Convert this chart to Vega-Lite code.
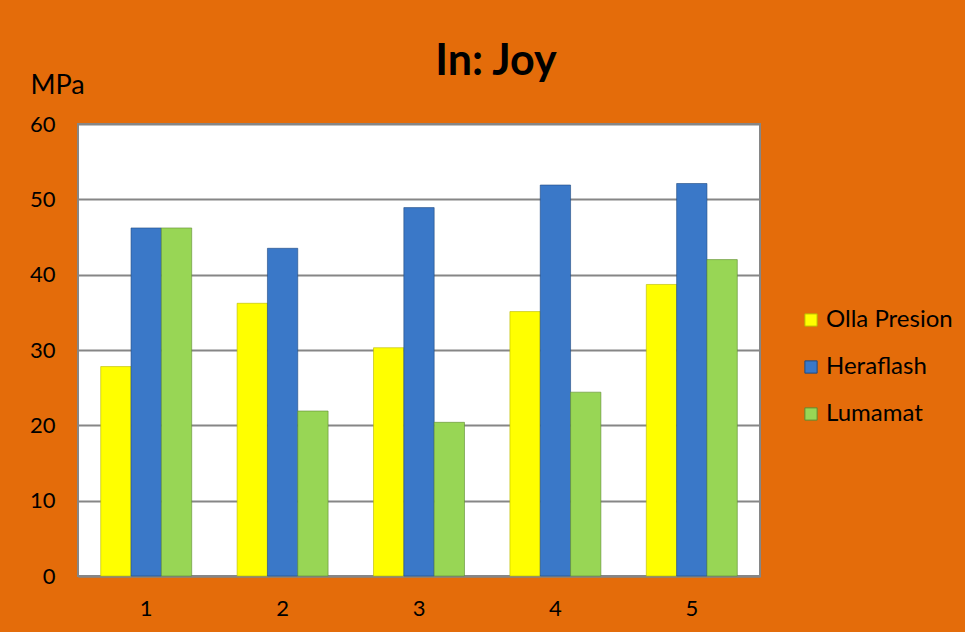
{
  "$schema": "https://vega.github.io/schema/vega-lite/v6.json",
  "width": 682,
  "height": 452,
  "autosize": "none",
  "padding": {"left": 78, "top": 124, "right": 205, "bottom": 56},
  "background": "#E46C0A",
  "title": {
    "text": "In: Joy",
    "font": "Lato",
    "fontSize": 43,
    "fontWeight": "bold",
    "color": "#000000",
    "anchor": "middle",
    "dx": 77,
    "dy": 53,
    "offset": 40
  },
  "data": {
    "values": [
      {"grupo": "1", "serie": "Olla Presion", "MPa": 27.8},
      {"grupo": "1", "serie": "Heraflash", "MPa": 46.2},
      {"grupo": "1", "serie": "Lumamat", "MPa": 46.2},
      {"grupo": "2", "serie": "Olla Presion", "MPa": 36.2},
      {"grupo": "2", "serie": "Heraflash", "MPa": 43.5},
      {"grupo": "2", "serie": "Lumamat", "MPa": 21.9},
      {"grupo": "3", "serie": "Olla Presion", "MPa": 30.3},
      {"grupo": "3", "serie": "Heraflash", "MPa": 48.9},
      {"grupo": "3", "serie": "Lumamat", "MPa": 20.4},
      {"grupo": "4", "serie": "Olla Presion", "MPa": 35.1},
      {"grupo": "4", "serie": "Heraflash", "MPa": 51.9},
      {"grupo": "4", "serie": "Lumamat", "MPa": 24.4},
      {"grupo": "5", "serie": "Olla Presion", "MPa": 38.7},
      {"grupo": "5", "serie": "Heraflash", "MPa": 52.1},
      {"grupo": "5", "serie": "Lumamat", "MPa": 42.0}
    ]
  },
  "mark": {"type": "bar", "strokeWidth": 1, "strokeOpacity": 0.6},
  "encoding": {
    "x": {
      "field": "grupo",
      "type": "nominal",
      "scale": {"paddingInner": 0.333, "paddingOuter": 0.1665},
      "axis": {
        "title": null,
        "labelAngle": 0,
        "labelFont": "Lato",
        "labelFontSize": 22,
        "labelColor": "#000000",
        "labelPadding": 22,
        "ticks": false,
        "domainColor": "#868686",
        "domainWidth": 2
      }
    },
    "xOffset": {
      "field": "serie",
      "type": "nominal",
      "sort": ["Olla Presion", "Heraflash", "Lumamat"],
      "scale": {"paddingInner": 0, "paddingOuter": 0}
    },
    "y": {
      "field": "MPa",
      "type": "quantitative",
      "scale": {"domain": [0, 60]},
      "axis": {
        "values": [0, 10, 20, 30, 40, 50, 60],
        "title": "MPa",
        "titleAngle": 0,
        "titleAlign": "left",
        "titleBaseline": "alphabetic",
        "titleX": -48,
        "titleY": -31,
        "titleFont": "Lato",
        "titleFontSize": 27,
        "titleFontWeight": "normal",
        "titleColor": "#000000",
        "labelFont": "Lato",
        "labelFontSize": 22,
        "labelColor": "#000000",
        "labelPadding": 23,
        "ticks": false,
        "domain": false,
        "gridColor": "#868686",
        "gridWidth": 2
      }
    },
    "color": {
      "field": "serie",
      "type": "nominal",
      "sort": ["Olla Presion", "Heraflash", "Lumamat"],
      "scale": {
        "domain": ["Olla Presion", "Heraflash", "Lumamat"],
        "range": ["#FFFF00", "#3A78C8", "#98D655"]
      },
      "legend": {
        "title": null,
        "orient": "none",
        "legendX": 721,
        "legendY": 184,
        "symbolType": "square",
        "symbolSize": 150,
        "symbolStrokeWidth": 1,
        "labelFont": "Lato",
        "labelFontSize": 24,
        "labelColor": "#000000",
        "labelOffset": 3,
        "rowPadding": 23
      }
    },
    "stroke": {
      "field": "serie",
      "type": "nominal",
      "scale": {
        "domain": ["Olla Presion", "Heraflash", "Lumamat"],
        "range": ["#B8B800", "#1F4A80", "#5F8A30"]
      },
      "legend": null
    }
  },
  "config": {
    "view": {"fill": "#FFFFFF", "stroke": "#868686", "strokeWidth": 2}
  }
}
